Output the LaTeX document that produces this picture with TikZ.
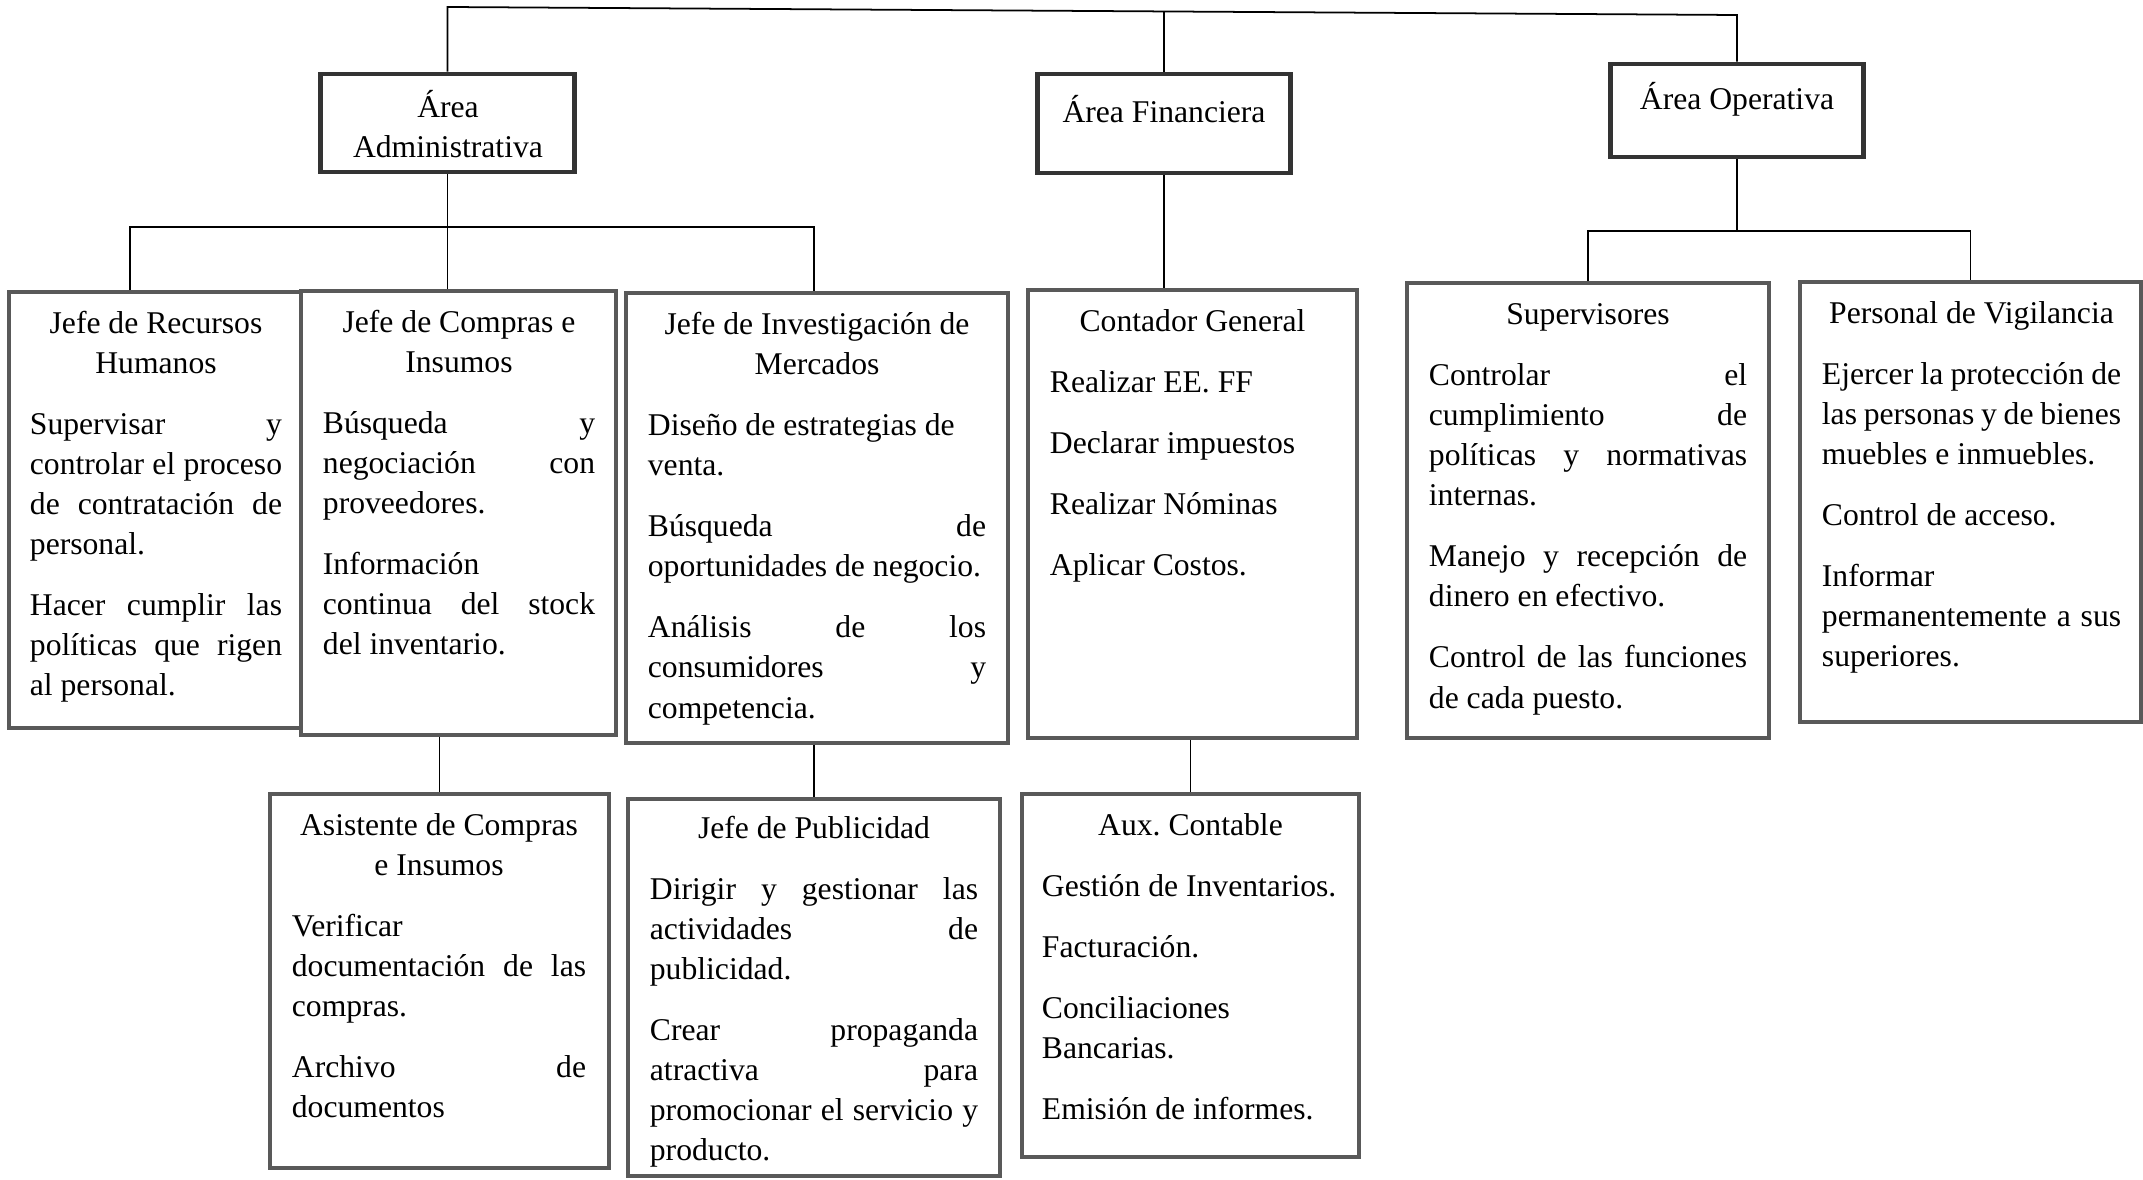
\documentclass[tikz,border=0pt]{standalone}
\usepackage{fontspec}
\setmainfont{Liberation Serif}
\hbadness=10000
\newcommand\fila[1]{\leavevmode\hbox to\linewidth{#1}\linebreak}
\tikzset{
  area/.style={draw=black!80, line width=1.4pt, inner sep=0pt},
  cargo/.style={draw=black!65, line width=1pt, inner sep=0pt},
  texto/.style={anchor=base, inner sep=0pt, text width=#1, align=justify,
    execute at begin node={\fontsize{9pt}{11.4pt}\selectfont\setlength\parskip{6pt}}},
  titulo/.style={anchor=base, inner sep=0pt, text width=#1, align=flush center,
    execute at begin node={\fontsize{9pt}{11.4pt}\selectfont}},
  conn/.style={line width=0.5pt, black},
}
\begin{document}
\begin{tikzpicture}[x=0.01cm, y=-0.01cm]
        \useasboundingbox (0,0) rectangle (2143,1179);
        %% Areas
        \node[area, minimum width=2.53cm, minimum height=0.98cm] (adm) at (447.5,123) {};
        \node[area, minimum width=2.52cm, minimum height=0.99cm] (fin) at (1164,123.5) {};
        \node[area, minimum width=2.52cm, minimum height=0.93cm] (ope) at (1737,110.5) {};
        \node[titulo=2.4cm] (adm-t) at (448,117) {Área\\Administrativa};
        \node[titulo=2.4cm] (fin-t) at (1164,123) {Área Financiera};
        \node[titulo=2.4cm] (ope-t) at (1737,110) {Área Operativa};
        %% Cargos
        \node[cargo, minimum width=2.92cm, minimum height=4.36cm] (rrhh) at (155,510) {};
        \node[cargo, minimum width=3.15cm, minimum height=4.44cm] (comp) at (458.5,513) {};
        \node[cargo, minimum width=3.82cm, minimum height=4.50cm] (inv) at (817,518) {};
        \node[cargo, minimum width=3.29cm, minimum height=4.48cm] (cont) at (1192.5,514) {};
        \node[cargo, minimum width=3.62cm, minimum height=4.55cm] (sup) at (1588,510.5) {};
        \node[cargo, minimum width=3.41cm, minimum height=4.40cm] (vig) at (1970.5,502) {};
        \node[cargo, minimum width=3.39cm, minimum height=3.74cm] (asis) at (439.5,981) {};
        \node[cargo, minimum width=3.72cm, minimum height=3.77cm] (pub) at (814,987.5) {};
        \node[cargo, minimum width=3.37cm, minimum height=3.63cm] (aux) at (1190.5,975.5) {};
        %% Texts
        \node[texto=2.52cm] (rrhh-t) at (156,333) {%
          {\centering Jefe de Recursos\\Humanos\par}
          \fila{Supervisar y}\fila{controlar el proceso}\fila{de contratación de}personal.\par
          \fila{Hacer cumplir las}\fila{políticas que rigen}al personal.};
        \node[texto=2.72cm] (comp-t) at (459,332) {%
          {\centering Jefe de Compras e\\Insumos\par}
          \fila{Búsqueda y}\fila{negociación con}proveedores.\par
          Información\newline\fila{continua del stock}del inventario.};
        \node[texto=3.38cm] (inv-t) at (817,334) {%
          {\centering Jefe de Investigación de\\Mercados\par}
          Diseño de estrategias de\newline venta.\par
          \fila{Búsqueda de}oportunidades de negocio.\par
          \fila{Análisis de los}\fila{consumidores y}competencia.};
        \node[texto=2.85cm] (cont-t) at (1192.5,331) {%
          {\centering Contador General\par}
          Realizar EE. FF\par
          Declarar impuestos\par
          Realizar Nóminas\par
          Aplicar Costos.};
        \node[texto=3.18cm] (sup-t) at (1588,324) {%
          {\centering Supervisores\par}
          \fila{Controlar el}\fila{cumplimiento de}\fila{políticas y normativas}internas.\par
          \fila{Manejo y recepción de}dinero en efectivo.\par
          \fila{Control de las funciones}de cada puesto.};
        \node[texto=2.99cm] (vig-t) at (1971.5,323) {%
          {\centering Personal de Vigilancia\par}
          \fila{Ejercer la protección de}\fila{las personas y de bienes}muebles e inmuebles.\par
          Control de acceso.\par
          Informar\newline\fila{permanentemente a sus}superiores.};
        \node[texto=2.94cm] (asis-t) at (439,835) {%
          {\centering Asistente de Compras\\e Insumos\par}
          Verificar\newline\fila{documentación de las}compras.\par
          \fila{Archivo de}documentos};
        \node[texto=3.28cm] (pub-t) at (814,838) {%
          {\centering Jefe de Publicidad\par}
          \fila{Dirigir y gestionar las}\fila{actividades de}publicidad.\par
          \fila{Crear propaganda}\fila{atractiva para}\fila{promocionar el servicio y}producto.};
        \node[texto=2.97cm] (aux-t) at (1190.5,835) {%
          {\centering Aux.\ Contable\par}
          Gestión de Inventarios.\par
          Facturación.\par
          Conciliaciones\newline Bancarias.\par
          Emisión de informes.};
        %% Top line
        \coordinate (tl) at (447.5,7);
        \coordinate (tr) at (1737,15);
        \draw[conn] (adm.north) -- (tl) -- (tr) -- (ope.north);
        \draw[conn] (fin.north) -- (fin.north |- 0,11);
        %% Administrativa
        \coordinate (ab-l) at (130,227);
        \coordinate (ab-r) at (814,227);
        \draw[conn] (adm.south) -- (adm.south |- comp.north);
        \draw[conn] (ab-l |- rrhh.north) -- (ab-l) -- (ab-r) -- (ab-r |- inv.north);
        \draw[conn] (comp.south -| asis.north) -- (asis.north);
        \draw[conn] (inv.south -| pub.north) -- (pub.north);
        %% Financiera
        \draw[conn] (fin.south) -- (fin.south |- cont.north);
        \draw[conn] (cont.south -| aux.north) -- (aux.north);
        %% Operativa
        \coordinate (ob) at (1737,231);
        \draw[conn] (ope.south) -- (ob);
        \draw[conn] (sup.north) -- (sup.north |- ob) -- (vig.north |- ob) -- (vig.north);
    \end{tikzpicture}
\end{document}
